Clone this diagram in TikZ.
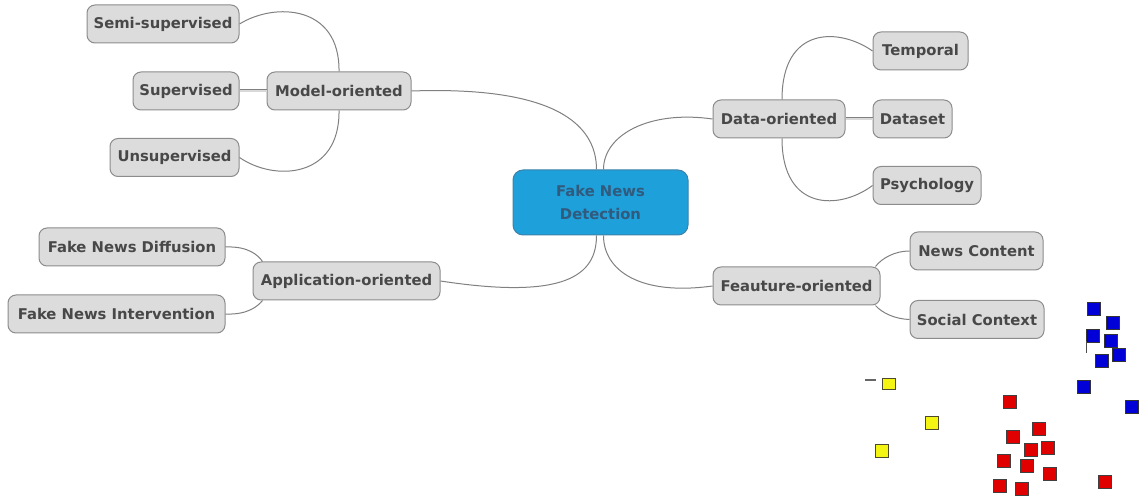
\documentclass[tikz,border=0pt]{standalone}
\usepackage{fontspec}
\setmainfont{DejaVu Sans}
\usetikzlibrary{calc}
\definecolor{boxfill}{RGB}{220,220,220}
\definecolor{boxline}{RGB}{140,140,140}
\definecolor{boxtext}{RGB}{72,72,72}
\definecolor{hubfill}{RGB}{30,160,218}
\definecolor{hubline}{RGB}{60,130,170}
\definecolor{hubtext}{RGB}{50,90,125}
\definecolor{wire}{RGB}{128,128,128}
\definecolor{ptred}{RGB}{225,0,0}
\definecolor{ptblue}{RGB}{0,0,215}
\definecolor{ptyellow}{RGB}{245,245,20}
\tikzset{
  topic/.style={draw=boxline, fill=boxfill, rounded corners=8pt, line width=1pt,
    text=boxtext, font=\bfseries\fontsize{14.8}{17}\selectfont,
    minimum height=38pt, inner sep=0pt, anchor=center},
  hub/.style={draw=hubline, fill=hubfill, rounded corners=10pt, line width=1pt,
    text=hubtext, font=\bfseries\fontsize{14.8}{23}\selectfont, align=center,
    minimum width=175pt, minimum height=65pt, inner sep=0pt},
  link/.style={draw=wire, line width=1pt},
  straightlink/.style={draw=wire, double=white!85!black, double distance=1.4pt, line width=0.8pt},
  pt/.style={line width=0.9pt, minimum size=13pt, inner sep=0pt, shape=rectangle},
}
\begin{document}
\begin{tikzpicture}[x=1pt,y=-1pt]
\useasboundingbox (0,0) rectangle (1148,502);

% central topic
\node[hub] (hub) at (600.5,202.5) {Fake News\\Detection};

% model branch
\node[topic, minimum width=144pt] (model) at (339,91) {Model-oriented};
\node[topic, minimum width=152pt] (semi) at (163,24) {Semi-supervised};
\node[topic, minimum width=106pt] (sup) at (186,91) {Supervised};
\node[topic, minimum width=129pt] (unsup) at (174.5,157.5) {Unsupervised};

% data branch
\node[topic, minimum width=132pt] (data) at (779,119) {Data-oriented};
\node[topic, minimum width=95pt] (temporal) at (920.5,51) {Temporal};
\node[topic, minimum width=79pt] (dataset) at (912.5,119) {Dataset};
\node[topic, minimum width=108pt] (psych) at (927,185.5) {Psychology};

% application branch
\node[topic, minimum width=187pt] (app) at (346.5,281) {Application-oriented};
\node[topic, minimum width=186pt] (diff) at (132,247) {Fake News Diffusion};
\node[topic, minimum width=217pt] (interv) at (116.5,314) {Fake News Intervention};

% feature branch
\node[topic, minimum width=167pt] (feat) at (796.5,286) {Feauture-oriented};
\node[topic, minimum width=133pt] (content) at (976.5,251) {News Content};
\node[topic, minimum width=134pt] (social) at (977,319.5) {Social Context};

% hub connectors
\draw[link] (model.east) .. controls (555,86) and ($(hub.north)+(-4,-45)$) .. ($(hub.north)+(-4,0)$);
\draw[link] (data.west) .. controls (650,110) and ($(hub.north)+(3,-35)$) .. ($(hub.north)+(3,0)$);
\draw[link] (app.east) .. controls (565,300) and ($(hub.south)+(-4,40)$) .. ($(hub.south)+(-4,0)$);
\draw[link] (feat.west) .. controls (640,296) and ($(hub.south)+(3,35)$) .. ($(hub.south)+(3,0)$);

% model children
\draw[link] (semi.east) .. controls (275,2) and (340,5) .. (model.north);
\draw[straightlink] (sup.east) -- (model.west);
\draw[link] (unsup.east) .. controls (275,182) and (340,178) .. (model.south);

% data children
\draw[link] ($(data.north)+(3,0)$) .. controls (782,25) and (840,28) .. (temporal.west);
\draw[straightlink] (data.east) -- (dataset.west);
\draw[link] ($(data.south)+(3,0)$) .. controls (782,212) and (840,210) .. (psych.west);

% application children
\draw[link] (diff.east) .. controls (248,246) and (258,255) .. ($(app.north west)+(10,0)$);
\draw[link] (interv.east) .. controls (248,315) and (258,306) .. ($(app.south west)+(10,0)$);

% feature children
\draw[link] ($(feat.north east)+(-5,0)$) .. controls (882,258) and (895,251) .. (content.west);
\draw[link] ($(feat.south east)+(-5,0)$) .. controls (882,313) and (895,319) .. (social.west);

% scattered markers
\foreach \i/\x/\y in {1/1094/309, 2/1113/323, 3/1093/336, 4/1111/341, 5/1119/355,
                      6/1102/361, 7/1084/387, 8/1132/407}
  \node[pt, draw=black!80, fill=ptblue] (b\i) at (\x,\y) {};
\draw[black!70, line width=1pt] (1086,341) -- (1086,353);
\foreach \i/\x/\y in {1/1010/402, 2/1039/429, 3/1013/437, 4/1031/450, 5/1048/448,
                      6/1004/461, 7/1027/466, 8/1050/474, 9/1000/486, 10/1022/489, 11/1105/482}
  \node[pt, draw=black!75, fill=ptred] (r\i) at (\x,\y) {};
\foreach \i/\x/\y in {2/932/423, 3/882/451}
  \node[pt, draw=black!60!olive, fill=ptyellow] (y\i) at (\x,\y) {};
\filldraw[draw=black!60!olive, fill=ptyellow, line width=0.9pt] (882.5,378) rectangle (895.5,389.5);
\draw[black!60, line width=1.2pt] (865,380) -- (876,380);
\end{tikzpicture}
\end{document}
